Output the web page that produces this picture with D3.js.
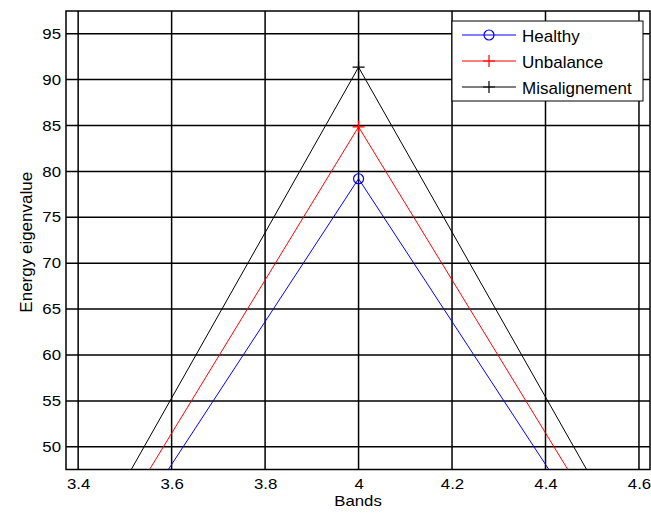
<!DOCTYPE html>
<html>
<head>
<meta charset="utf-8">
<script src="https://cdn.jsdelivr.net/npm/d3@7"></script>
<style>
  html, body { margin: 0; padding: 0; background: #fff; }
  svg { display: block; font-family: "Liberation Sans", Arial, sans-serif; }
</style>
</head>
<body>
<svg id="chart" width="651" height="518"></svg>
<script>
// Energy eigenvalue per wavelet band, one series per machine condition
const bands = [3, 4, 5];
const healthy = [1.4, 79.2, 1.4];
const unbalance = [1.4, 84.85, 1.5];
const misalignment = [1.25, 91.35, 1.55];

const seriesNames = ["Healthy", "Unbalance", "Misalignement"];
const seriesColors = ["#0000ff", "#ff0000", "#000000"];
const seriesMarkers = ["circle", "plus", "plus"];

const xTicks = [3.4, 3.6, 3.8, 4, 4.2, 4.4, 4.6];
const yTicks = [50, 55, 60, 65, 70, 75, 80, 85, 90, 95];
const xDomain = [3.374, 4.6236];
const yDomain = [47.53, 97.47];

const svg = d3.select("#chart");
const margin = { left: 66, right: 1, top: 11, bottom: 48.5 };
const W = 651, H = 518;
const x = d3.scaleLinear().domain(xDomain).range([margin.left, W - margin.right]);
const y = d3.scaleLinear().domain(yDomain).range([H - margin.bottom, margin.top]);

const tickFont = 14.5;
const wide = 1.16;       // horizontal widening of axis text
const legendFont = 17;

// clip the series to the axes box
svg.append("defs").append("clipPath").attr("id", "clip")
  .append("rect")
  .attr("x", x.range()[0]).attr("y", y.range()[1])
  .attr("width", x.range()[1] - x.range()[0])
  .attr("height", y.range()[0] - y.range()[1]);

// grid lines
const grid = svg.append("g");
grid.append("g").selectAll("line").data(xTicks).join("line")
  .attr("x1", d => x(d)).attr("x2", d => x(d))
  .attr("y1", y.range()[0]).attr("y2", y.range()[1])
  .attr("stroke", "#000").attr("stroke-width", 1.5);
grid.append("g").selectAll("line").data(yTicks).join("line")
  .attr("y1", d => y(d)).attr("y2", d => y(d))
  .attr("x1", x.range()[0]).attr("x2", x.range()[1])
  .attr("stroke", "#000").attr("stroke-width", 1.5);

// axes with tick labels
const xAxis = d3.axisBottom(x).tickValues(xTicks).tickSize(0).tickPadding(9.5)
  .tickFormat(d3.format("~g"));
const yAxis = d3.axisLeft(y).tickValues(yTicks).tickSize(0).tickPadding(5 / wide)
  .tickFormat(d3.format("~g"));

const gx = svg.append("g").attr("transform", `translate(0,${y.range()[0]})`).call(xAxis);
const gy = svg.append("g").attr("transform", `translate(${x.range()[0]},0)`).call(yAxis);
[gx, gy].forEach(g => {
  g.select(".domain").remove();
  g.attr("font-size", null).attr("font-family", null);
  g.selectAll("text").attr("font-size", tickFont).attr("fill", "#000")
    .attr("transform", `scale(${wide},1)`);
});

// axes box
svg.append("rect")
  .attr("x", x.range()[0]).attr("y", y.range()[1])
  .attr("width", x.range()[1] - x.range()[0])
  .attr("height", y.range()[0] - y.range()[1])
  .attr("fill", "none").attr("stroke", "#000").attr("stroke-width", 1.5);

// series
const allSeries = [healthy, unbalance, misalignment];
const line = d3.line().x((d, i) => x(bands[i])).y(d => y(d));
const series = svg.append("g").attr("clip-path", "url(#clip)");

function drawMarker(g, type, cx, cy, color) {
  if (type === "circle") {
    g.append("circle").attr("cx", cx).attr("cy", cy).attr("r", 5)
      .attr("fill", "none").attr("stroke", color).attr("stroke-width", 1.2);
  } else {
    g.append("path")
      .attr("d", `M${cx - 6},${cy}H${cx + 6}M${cx},${cy - 6}V${cy + 6}`)
      .attr("stroke", color).attr("stroke-width", 1.2);
  }
}

allSeries.forEach((vals, k) => {
  series.append("path").datum(vals).attr("d", line)
    .attr("fill", "none").attr("stroke", seriesColors[k]).attr("stroke-width", 1);
  vals.forEach((v, i) => drawMarker(series, seriesMarkers[k], x(bands[i]), y(v), seriesColors[k]));
});

// axis titles
svg.append("g")
  .attr("transform", `translate(${(x.range()[0] + x.range()[1]) / 2},505.5)`)
  .append("text").attr("transform", "scale(1.2,1)")
  .attr("text-anchor", "middle").attr("font-size", 14).attr("fill", "#000").text("Bands");
svg.append("text")
  .attr("transform", `translate(31.5,${(y.range()[0] + y.range()[1]) / 2 + 2}) rotate(-90)`)
  .attr("text-anchor", "middle").attr("font-size", legendFont).attr("fill", "#000")
  .text("Energy eigenvalue");

// legend
const lg = svg.append("g");
lg.append("rect").attr("x", 452).attr("y", 21).attr("width", 191).attr("height", 80)
  .attr("fill", "#fff").attr("stroke", "#000").attr("stroke-width", 1);
seriesNames.forEach((name, k) => {
  const ly = 35 + k * 26;
  lg.append("line").attr("x1", 462).attr("x2", 516).attr("y1", ly).attr("y2", ly)
    .attr("stroke", seriesColors[k]).attr("stroke-width", 1);
  drawMarker(lg, seriesMarkers[k], 489, ly, seriesColors[k]);
  lg.append("text").attr("x", 522).attr("y", ly + 6.5).attr("font-size", legendFont)
    .attr("fill", "#000").text(name);
});
</script>
</body>
</html>
